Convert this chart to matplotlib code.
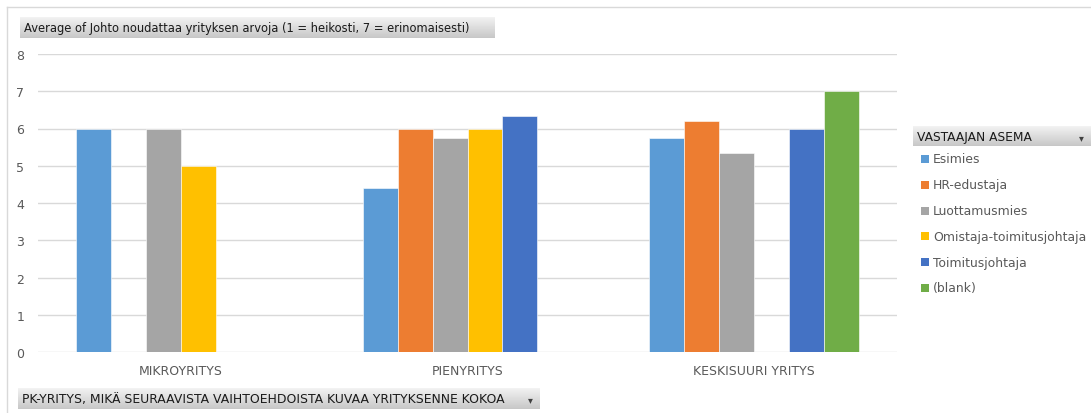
import numpy as np
import matplotlib
matplotlib.use("Agg")
import matplotlib.pyplot as plt
from matplotlib.patches import Rectangle
from matplotlib.lines import Line2D

categories = ["MIKROYRITYS", "PIENYRITYS", "KESKISUURI YRITYS"]
series_names = ["Esimies", "HR-edustaja", "Luottamusmies",
                "Omistaja-toimitusjohtaja", "Toimitusjohtaja", "(blank)"]
esimies = [6.0, 4.4, 5.75]
hr_edustaja = [np.nan, 6.0, 6.2]
luottamusmies = [6.0, 5.75, 5.33]
omistaja = [5.0, 6.0, np.nan]
toimitusjohtaja = [np.nan, 6.33, 6.0]
blank = [np.nan, np.nan, 7.0]
colors = ["#5B9BD5", "#ED7D31", "#A5A5A5", "#FFC000", "#4472C4", "#70AD47"]

title = "Average of Johto noudattaa yrityksen arvoja (1 = heikosti, 7 = erinomaisesti)"
row_field = "PK-YRITYS, MIKÄ SEURAAVISTA VAIHTOEHDOISTA KUVAA YRITYKSENNE KOKOA"
legend_field = "VASTAAJAN ASEMA"

W, H = 1091, 414
fig = plt.figure(figsize=(W / 100, H / 100), dpi=100)
plt.rcParams['font.family'] = ['DejaVu Sans']


def px(x0, y0, x1, y1):
    # pixel box -> figure fraction rect
    return [x0 / W, 1 - y1 / H, (x1 - x0) / W, (y1 - y0) / H]


# outer frame
fig.add_artist(Line2D([7 / W, 1], [1 - 8 / H, 1 - 8 / H], color="#D9D9D9", lw=1))
fig.add_artist(Line2D([7 / W, 7 / W], [1 - 8 / H, 0], color="#D9D9D9", lw=1))

ax = fig.add_axes(px(38, 55, 897, 353))
data = [esimies, hr_edustaja, luottamusmies, omistaja, toimitusjohtaja, blank]
x = np.arange(len(categories))
bw = 0.122
for i, (vals, c, name) in enumerate(zip(data, colors, series_names)):
    ax.bar(x + (i - 2.5) * bw, vals, width=bw, color=c, label=name,
           edgecolor="white", linewidth=0.4, zorder=3)

ax.set_xlim(-0.5, 2.5)
ax.set_ylim(0, 8)
ax.set_yticks(range(9))
ax.yaxis.grid(True, color="#D9D9D9", lw=1, zorder=0)
ax.set_xticks(x)
ax.set_xticklabels(categories)
for s in ax.spines.values():
    s.set_visible(False)
ax.tick_params(axis="both", length=0, colors="#595959", labelsize=9)
ax.tick_params(axis="x", pad=9)
ax.tick_params(axis="y", pad=10)


def field_box(x0, y0, x1, y1, text, arrow=False, size=8):
    bx = fig.add_axes(px(x0, y0, x1, y1))
    grad = np.linspace(0.95, 0.78, 50).reshape(-1, 1)
    bx.imshow(grad, cmap="gray", vmin=0, vmax=1, aspect="auto",
              extent=[0, 1, 0, 1], origin="upper")
    bx.set_xlim(0, 1)
    bx.set_ylim(0, 1)
    bx.axis("off")
    bx.text(4 / (x1 - x0), 0.5, text, va="center", ha="left",
            fontsize=size, color="#1a1a1a")
    if arrow:
        bx.text(1 - 10 / (x1 - x0), 0.45, "▾", va="center", ha="center",
                fontsize=7, color="#404040")
    return bx


field_box(20, 18, 495, 39, title, size=8.3)
field_box(18, 389, 540, 410, row_field, arrow=True, size=8.9)
field_box(913, 127, 1091, 147, legend_field, arrow=True, size=8.8)

# legend entries
for i, (name, c) in enumerate(zip(series_names, colors)):
    yc = 160 + i * 25.8
    fig.add_artist(Rectangle((921 / W, 1 - (yc + 4) / H), 8 / W, 8 / H,
                             facecolor=c, edgecolor="none"))
    fig.text(933 / W, 1 - yc / H, name, va="center", ha="left",
             fontsize=8.9, color="#595959")

fig.savefig("out.png", dpi=100)
